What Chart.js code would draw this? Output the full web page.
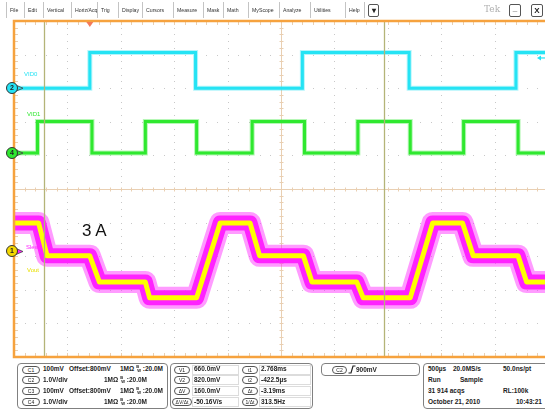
<!DOCTYPE html>
<html><head><meta charset="utf-8">
<script src="https://cdn.jsdelivr.net/npm/chart.js@4.4.1/dist/chart.umd.min.js"></script>
<style>
html,body{margin:0;padding:0;width:545px;height:410px;overflow:hidden;background:#fff;}
body{position:relative;font-family:"Liberation Sans",Arial,Helvetica,sans-serif;}
#c{position:absolute;left:0;top:0;}
.t{position:absolute;white-space:nowrap;line-height:1;}
.menu{font-size:5.2px;color:#333;top:8px;}
.sep{position:absolute;top:2px;width:1px;height:16px;background:#c4c4c4;}
.btn{position:absolute;border:1px solid #555;border-radius:2px;box-sizing:border-box;font-size:8px;line-height:11px;text-align:center;font-weight:bold;color:#222;}
.box{position:absolute;border:1px solid #808080;border-radius:4px;box-sizing:border-box;background:#fff;}
.p{font-size:6.5px;font-weight:bold;color:#222;}
.pill{position:absolute;border:1px solid #555;border-radius:4px;box-sizing:border-box;height:8px;font-size:5px;line-height:6px;text-align:center;color:#222;white-space:nowrap;}
.cell{position:absolute;border:1px solid #dcdcdc;box-sizing:border-box;height:10px;}
.mk{position:absolute;width:12px;height:12px;border-radius:50%;border:1px solid #333;box-sizing:border-box;font-size:7px;font-weight:bold;text-align:center;line-height:10px;color:#222;}
.lbl{font-size:6px;}
.bw{display:inline-block;position:relative;width:6px;height:7px;vertical-align:top;margin:0 0.5px 0 2px;}
.bw span{position:absolute;font-size:4px;font-weight:bold;line-height:1;}
</style></head><body>
<canvas id="c" width="552" height="410"></canvas>
<script>
// ---------------- data ----------------
// time in ms relative to screen centre, 500 us/div, 10 divisions
const timeRangeMs = [-2.5, 2.5];
// C2 "VID0" square wave: edge times and level after each edge (V)
const vid0TimesMs = [-2.5, -1.79, -0.80, 0.20, 1.20, 2.20, 2.5];
const vid0Volts   = [0.0, 1.06, 0.0, 1.06, 0.0, 1.06, 1.06];
// C4 "VID1" square wave
const vid1TimesMs = [-2.5, -2.28, -1.77, -1.27, -0.79, -0.27, 0.22, 0.72, 1.21, 1.71, 2.22, 2.5];
const vid1Volts   = [0.0, 0.94, 0.0, 0.94, 0.0, 0.94, 0.0, 0.94, 0.0, 0.94, 0.0, 0.0];
// C1 "Vout" staircase breakpoints (V)
const voutTimesMs = [-2.5, -2.27, -2.19, -1.79, -1.70, -1.27, -1.23, -0.79, -0.57, -0.29, -0.20, 0.21, 0.29, 0.71, 0.77, 1.21, 1.42, 1.70, 1.80, 2.22, 2.30, 2.5];
const voutVolts   = [0.885, 0.885, 0.787, 0.787, 0.709, 0.709, 0.662, 0.662, 0.885, 0.885, 0.787, 0.787, 0.709, 0.709, 0.662, 0.662, 0.885, 0.885, 0.787, 0.787, 0.709, 0.709];
// C3 "Slew" (same probe point, noisier)
const slewTimesMs = [-2.5, -2.27, -2.19, -1.79, -1.70, -1.27, -1.23, -0.79, -0.57, -0.29, -0.20, 0.21, 0.29, 0.71, 0.77, 1.21, 1.42, 1.70, 1.80, 2.22, 2.30, 2.5];
const slewVolts   = [0.885, 0.885, 0.787, 0.787, 0.709, 0.709, 0.662, 0.662, 0.885, 0.885, 0.787, 0.787, 0.709, 0.709, 0.662, 0.662, 0.885, 0.885, 0.787, 0.787, 0.709, 0.709];
// cursors and trigger
const cursorTimesMs = [-2.22, 0.965];
const triggerTimeMs = -1.79;
const triggerLevelV = 0.9;

// text tables
const menuItems = ['File','Edit','Vertical','Horiz/Acq','Trig','Display','Cursors','Measure','Mask','Math','MyScope','Analyze','Utilities','Help'];
const chanNames = ['C1','C2','C3','C4'];
const chanScaleText = ['100mV','1.0V/div','100mV','1.0V/div'];
const chanOffsetText = ['Offset:800mV','','Offset:800mV',''];
const cursorVNames = ['V1','V2','ΔV','ΔV/Δt'];
const cursorVValues = ['660.0mV','820.0mV','160.0mV','-50.16V/s'];
const cursorTNames = ['t1','t2','Δt','1/Δt'];
const cursorTValues = ['2.768ms','-422.5µs','-3.19ms','313.5Hz'];
const acqLeft  = ['500µs','Run','31 914 acqs','October 21, 2010'];
const acqMid   = ['20.0MS/s','Sample','',''];
const acqRight = ['50.0ns/pt','','RL:100k','10:43:21'];

// ---------------- channel settings ----------------
const ch = {
  C1:{vdiv:0.1, offset:0.8, pos:-1.86, color:'#ffff00'},
  C2:{vdiv:1.0, offset:0.0, pos:3.0,  color:'#25e3f4'},
  C3:{vdiv:0.1, offset:0.8, pos:-1.86, color:'#ff22ff'},
  C4:{vdiv:1.0, offset:0.0, pos:1.07, color:'#2fe82f'}
};
const toDiv = (v,c) => (v - c.offset)/c.vdiv + c.pos;
const pts = (ts, vs, c) => ts.map((t,i)=>({x:t, y:toDiv(vs[i], c)}));

const scopePlugin = {
  id:'scope',
  beforeDatasetsDraw(chart){
    const {ctx, chartArea:a, scales:{x,y}} = chart;
    ctx.save();
    const xDiv = (a.right-a.left)/10, yDiv = (a.bottom-a.top)/10;
    ctx.fillStyle = '#c8c8c8';
    for(let i=1;i<10;i++){
      if(i===5) continue;
      const px = Math.round(a.left + i*xDiv);
      for(let k=1;k<50;k++){ const py = a.top + k*yDiv/5; ctx.fillRect(px, Math.round(py), 1, 1); }
    }
    for(let j=1;j<10;j++){
      if(j===5) continue;
      const py = Math.round(a.top + j*yDiv);
      for(let k=1;k<50;k++){ const px = a.left + k*xDiv/5; ctx.fillRect(Math.round(px), py, 1, 1); }
    }
    const cx = Math.round(x.getPixelForValue(0))+0.5, cy = Math.round(y.getPixelForValue(0))+0.5;
    ctx.strokeStyle = '#e9cfb2'; ctx.lineWidth = 1;
    ctx.beginPath();
    ctx.moveTo(a.left, cy); ctx.lineTo(a.right, cy);
    ctx.moveTo(cx, a.top); ctx.lineTo(cx, a.bottom);
    for(let k=1;k<50;k++){
      const px = Math.round(a.left + k*xDiv/5)+0.5;
      ctx.moveTo(px, cy-2); ctx.lineTo(px, cy+2);
      const py = Math.round(a.top + k*yDiv/5)+0.5;
      ctx.moveTo(cx-2, py); ctx.lineTo(cx+2, py);
    }
    for(let k=1;k<50;k++){
      const px = Math.round(a.left + k*xDiv/5)+0.5;
      ctx.moveTo(px, a.top); ctx.lineTo(px, a.top+4);
      ctx.moveTo(px, a.bottom); ctx.lineTo(px, a.bottom-4);
      const py = Math.round(a.top + k*yDiv/5)+0.5;
      ctx.moveTo(a.left, py); ctx.lineTo(a.left+4, py);
    }
    ctx.stroke();
    ctx.restore();
  },
  afterDatasetsDraw(chart){
    const {ctx, chartArea:a, scales:{x,y}} = chart;
    ctx.save();
    ctx.strokeStyle = '#b4b478'; ctx.lineWidth = 1.3;
    cursorTimesMs.forEach(t=>{
      const px = Math.round(x.getPixelForValue(t))+0.5;
      ctx.beginPath(); ctx.moveTo(px, a.top); ctx.lineTo(px, a.bottom); ctx.stroke();
    });
    ctx.strokeStyle = '#f6a23e'; ctx.lineWidth = 2.5;
    ctx.beginPath();
    ctx.moveTo(a.right+4, a.top); ctx.lineTo(a.left, a.top); ctx.lineTo(a.left, a.bottom); ctx.lineTo(a.right+4, a.bottom);
    ctx.stroke();
    const tx = x.getPixelForValue(triggerTimeMs);
    ctx.fillStyle = '#f47a5a';
    ctx.beginPath(); ctx.moveTo(tx-3.5, a.top+1); ctx.lineTo(tx+3.5, a.top+1); ctx.lineTo(tx, a.top+6); ctx.closePath(); ctx.fill();
    const ty = y.getPixelForValue(toDiv(triggerLevelV, ch.C2));
    ctx.fillStyle = ch.C2.color; ctx.strokeStyle = ch.C2.color; ctx.lineWidth = 1.2;
    ctx.beginPath(); ctx.moveTo(537, ty); ctx.lineTo(541, ty-2.5); ctx.lineTo(541, ty+2.5); ctx.closePath(); ctx.fill();
    ctx.beginPath(); ctx.moveTo(540, ty); ctx.lineTo(546, ty); ctx.stroke();
    [['C2',ch.C2.color],['C4',ch.C4.color],['C3',ch.C3.color]].forEach(([n,col])=>{
      const py = y.getPixelForValue(ch[n].pos);
      ctx.fillStyle = col; ctx.strokeStyle='#444'; ctx.lineWidth=0.8;
      ctx.beginPath(); ctx.moveTo(16, py-3); ctx.lineTo(23, py); ctx.lineTo(16, py+3); ctx.closePath(); ctx.fill(); ctx.stroke();
    });
    ctx.restore();
  }
};

const chart = new Chart(document.getElementById('c'), {
  type:'line',
  data:{datasets:[
    {label:'Vout', data:pts(voutTimesMs, voutVolts, ch.C1), borderColor:ch.C1.color, borderWidth:5, borderJoinStyle:'round'},
    {label:'Slew', data:pts(slewTimesMs, slewVolts, ch.C3), borderColor:ch.C3.color, borderWidth:15, borderJoinStyle:'round'},
    {label:'Slew halo', data:pts(slewTimesMs, slewVolts, ch.C3), borderColor:'rgba(255,34,255,0.45)', borderWidth:22, borderJoinStyle:'round'},
    {label:'VID0', data:pts(vid0TimesMs, vid0Volts, ch.C2), borderColor:ch.C2.color, borderWidth:3, stepped:'before'},
    {label:'VID0 halo', data:pts(vid0TimesMs, vid0Volts, ch.C2), borderColor:'rgba(37,227,244,0.35)', borderWidth:5, stepped:'before'},
    {label:'VID1', data:pts(vid1TimesMs, vid1Volts, ch.C4), borderColor:ch.C4.color, borderWidth:3, stepped:'before'},
    {label:'VID1 halo', data:pts(vid1TimesMs, vid1Volts, ch.C4), borderColor:'rgba(47,232,47,0.35)', borderWidth:5, stepped:'before'}
  ]},
  options:{
    responsive:false, animation:false, events:[],
    layout:{padding:{left:14, top:21, right:4, bottom:53}},
    plugins:{legend:{display:false}, tooltip:{enabled:false}},
    elements:{point:{radius:0}, line:{tension:0, fill:false}},
    scales:{
      x:{type:'linear', min:timeRangeMs[0], max:timeRangeMs[1], display:false},
      y:{type:'linear', min:-5, max:5, display:false}
    }
  },
  plugins:[scopePlugin]
});

// ---------------- HTML text overlays ----------------
const body = document.body;
function el(cls, text, css, parent){
  const d = document.createElement('div');
  d.className = cls; if(text!==null) d.textContent = text;
  Object.assign(d.style, css); (parent||body).appendChild(d); return d;
}
// menu bar
const menuX = [10, 28, 47, 75, 101, 122, 146, 177, 207, 227, 252, 283, 314, 349];
menuItems.forEach((m,i)=>{
  el('t menu', m, {left:menuX[i]+'px'});
  el('sep', null, {left:(menuX[i]-4)+'px'});
});
el('sep', null, {left:'364px'});
el('btn', '▾', {left:'368px', top:'4px', width:'11px', height:'13px', fontSize:'8px'});
el('t', 'Tek', {left:'484px', top:'5px', fontSize:'9px', color:'#b0b0b0', fontFamily:'"DejaVu Serif",serif'});
el('btn', '_', {left:'509px', top:'4px', width:'12px', height:'13px', lineHeight:'7px'});
el('btn', 'X', {left:'531px', top:'4px', width:'12px', height:'13px', lineHeight:'12px'});

// waveform labels and ground markers
const ys = chart.scales.y;
el('t lbl', 'VID0', {left:'24px', top:'71px', color:ch.C2.color});
el('t lbl', 'VID1', {left:'27px', top:'111px', color:ch.C4.color});
el('t lbl', 'Slew', {left:'26px', top:'244px', color:ch.C3.color});
el('t lbl', 'Vout', {left:'27px', top:'267px', color:'#e8e000'});
el('t', '3 A', {left:'82px', top:'222px', fontSize:'17px', color:'#111'});
[['2','C2'],['4','C4'],['1','C1']].forEach(([n,c])=>{
  const py = ys.getPixelForValue(ch[c].pos);
  el('mk', n, {left:'6px', top:(py-6)+'px', background: c==='C1' ? '#f4d800' : ch[c].color});
});

// bottom panel
const rowC = [369.5, 380, 391, 402];
el('box', null, {left:'17px', top:'363px', width:'151px', height:'46px'});
chanNames.forEach((n,i)=>{
  const cy = rowC[i];
  el('pill', n, {left:'22px', top:(cy-4)+'px', width:'18px'});
  el('t p', chanScaleText[i], {left:'43px', top:(cy-3.3)+'px'});
  if(chanOffsetText[i]) el('t p', chanOffsetText[i], {left:'69px', top:(cy-3.3)+'px'});
  const bx = chanOffsetText[i] ? 120 : 104;
  const g = el('t p', null, {left:bx+'px', top:(cy-3.3)+'px'});
  g.appendChild(document.createTextNode('1MΩ'));
  const bw = document.createElement('span'); bw.className='bw';
  const b = document.createElement('span'); b.textContent='B'; b.style.left='0px'; b.style.top='-1px';
  const w = document.createElement('span'); w.textContent='W'; w.style.left='1px'; w.style.top='3px';
  bw.appendChild(b); bw.appendChild(w); g.appendChild(bw);
  g.appendChild(document.createTextNode(':20.0M'));
});
el('box', null, {left:'170px', top:'363px', width:'143px', height:'46px'});
cursorVNames.forEach((n,i)=>{
  const cy = rowC[i];
  const wide = n.length>2;
  el('pill', n, {left:(wide?172:174)+'px', top:(cy-4)+'px', width:(wide?20:16)+'px'});
  el('cell', null, {left:'192px', top:(cy-5)+'px', width:'47px'});
  el('t p', cursorVValues[i], {left:'194px', top:(cy-3.3)+'px'});
  el('pill', cursorTNames[i], {left:'242px', top:(cy-4)+'px', width:'16px'});
  el('cell', null, {left:'259px', top:(cy-5)+'px', width:'52px'});
  el('t p', cursorTValues[i], {left:'261px', top:(cy-3.3)+'px'});
});
el('box', null, {left:'321px', top:'363px', width:'99px', height:'13px'});
el('pill', 'C2', {left:'332px', top:'366px', width:'15px'});
const svgNS='http://www.w3.org/2000/svg';
const sv=document.createElementNS(svgNS,'svg');
sv.setAttribute('width','8'); sv.setAttribute('height','9');
Object.assign(sv.style,{position:'absolute',left:'348px',top:'365px'});
const pa=document.createElementNS(svgNS,'path');
pa.setAttribute('d','M0.5 8 L3 8 L5 1 L7.5 1'); pa.setAttribute('stroke','#222'); pa.setAttribute('fill','none'); pa.setAttribute('stroke-width','1.2');
sv.appendChild(pa); body.appendChild(sv);
el('t p', '900mV', {left:'356px', top:'366.5px'});
el('box', null, {left:'423px', top:'363px', width:'130px', height:'46px'});
rowC.forEach((cy,i)=>{
  if(acqLeft[i]) el('t p', acqLeft[i], {left:'428px', top:(cy-3.3)+'px'});
  if(acqMid[i]) el('t p', acqMid[i], {left:(i===0?453:460)+'px', top:(cy-3.3)+'px'});
  if(acqRight[i]) el('t p', acqRight[i], i===3 ? {right:'3px', top:(cy-3.3)+'px'} : {left:'503px', top:(cy-3.3)+'px'});
});
</script></body></html>
